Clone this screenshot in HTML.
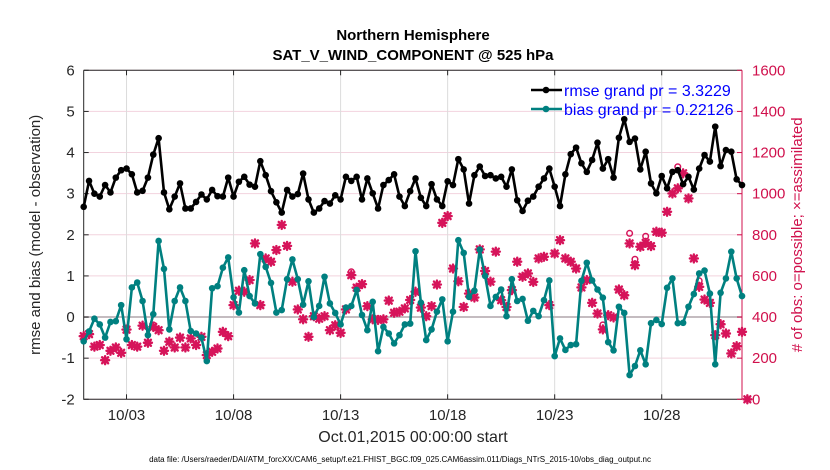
<!DOCTYPE html>
<html><head><meta charset="utf-8"><style>
body{margin:0;background:#fff;}
svg{display:block;font-family:"Liberation Sans",sans-serif;}
</style></head><body>
<svg id="chart" width="830" height="470" viewBox="0 0 830 470">
</svg>
<script>
const rmse=[2.68,3.31,3.0,2.93,3.21,3.03,3.39,3.57,3.61,3.47,3.03,3.07,3.39,3.95,4.35,3.03,2.62,2.93,3.25,2.64,2.64,2.80,2.98,2.86,3.09,2.94,2.93,3.39,2.93,3.29,3.41,3.22,3.17,3.79,3.45,3.06,2.79,2.54,3.09,2.93,2.99,3.49,2.86,2.54,2.64,2.82,2.76,2.96,2.86,3.41,3.31,3.41,2.86,3.37,3.01,2.64,3.21,3.33,3.47,2.93,2.70,3.06,3.37,2.90,2.70,3.23,2.86,2.70,3.30,3.21,3.84,3.59,2.76,3.45,3.66,3.43,3.45,3.37,3.41,3.17,3.59,2.84,2.58,2.83,2.93,3.17,3.37,3.61,3.17,2.70,3.47,3.96,4.12,3.74,3.53,3.82,4.24,3.61,3.84,3.39,4.36,4.81,4.26,4.34,3.59,4.02,3.25,3.01,3.43,3.13,3.53,3.57,3.23,3.41,3.10,3.61,3.94,3.78,4.63,3.67,4.06,4.02,3.35,3.21];
const bias=[-0.59,-0.35,-0.04,-0.18,-0.50,-0.12,-0.10,0.29,-0.54,0.72,0.84,0.39,-0.44,0.07,1.85,1.17,-0.30,0.39,0.72,0.39,-0.34,-0.40,-0.50,-1.07,0.70,0.75,1.20,1.45,0.48,0.11,1.14,0.51,0.33,1.53,1.22,0.83,0.11,0.17,0.92,1.40,0.92,0.30,0.87,0.0,0.27,0.98,0.33,0.10,-0.18,0.23,0.27,0.66,0.05,-0.32,0.37,-0.83,-0.24,-0.40,-0.64,-0.44,-0.18,-0.16,1.60,0.35,-0.56,-0.30,0.13,0.43,-0.59,0.13,1.87,1.56,0.49,0.64,1.64,1.00,0.27,0.49,0.67,0.02,0.92,0.39,0.44,-0.09,0.15,0.02,0.41,0.89,-0.95,-0.52,-0.80,-0.68,-0.66,0.88,1.32,0.89,0.67,0.47,-0.61,-0.81,0.25,0.10,-1.41,-1.19,-0.81,-1.15,-0.15,-0.07,-0.17,0.71,0.94,-0.15,-0.14,0.25,0.56,1.06,1.13,0.57,-1.15,0.59,0.94,1.59,0.94,0.51];
const nAssim=[307,317,256,264,190,236,252,226,339,264,256,358,275,352,336,236,280,252,300,252,296,264,304,215,231,247,328,307,458,528,523,580,758,458,685,669,726,848,746,572,437,389,304,404,392,404,336,360,323,437,604,543,560,453,389,386,389,480,421,426,442,483,523,446,404,453,558,858,891,636,574,449,514,495,729,624,572,718,482,449,531,669,596,612,571,685,693,458,709,774,685,669,636,544,580,469,417,340,409,398,534,506,758,652,742,761,745,815,810,912,1001,1026,1099,977,685,547,485,469,312,365,320,223,258,328,0];
const nPoss=nAssim.slice();
const possIdx=[13,50,97,102,103,105,111,115];
const possVal=[362,620,362,807,681,793,1131,576];
for(let k=0;k<possIdx.length;k++){nPoss[possIdx[k]]=possVal[k];}
const xTickLabels=["10/03","10/08","10/13","10/18","10/23","10/28"];
const xTickDays=[2,7,12,17,22,27];
const yTicks=[-2,-1,0,1,2,3,4,5,6];
const y2Ticks=[0,200,400,600,800,1000,1200,1400,1600];

const L=83.7,R=742,T=70.3,B=399.3;
const xs=d=>L+(d/30.75)*(R-L);
const xi=i=>xs(i*0.25);
const ys=v=>B-(v+2)/8*(B-T);
const y2=n=>B-n/1600*(B-T);
const svg=document.getElementById('chart');
const NS='http://www.w3.org/2000/svg';
function mk(tag,attrs,parent){const e=document.createElementNS(NS,tag);for(const k in attrs)e.setAttribute(k,attrs[k]);(parent||svg).appendChild(e);return e;}

yTicks.forEach(v=>{
  const g=mk('line',{x1:L,x2:R,y1:ys(v),y2:ys(v),stroke:'#f2d3de','stroke-width':1});
  
  
});
xTickDays.forEach(d=>{
  const g=mk('line',{x1:xs(d),x2:xs(d),y1:T,y2:B,stroke:'#dcdcdc','stroke-width':1});
  
  
});
const zl=mk('line',{x1:L,x2:R,y1:ys(0),y2:ys(0),stroke:'#c4bcc0','stroke-width':2});



const ax=mk('path',{d:`M${L},${T}H${R}M${L},${T}V${B}H${R}`,stroke:'#262626',fill:'none','stroke-width':1});


const ax2=mk('line',{x1:R,x2:R,y1:T,y2:B,stroke:'#d0104c','stroke-width':1});



yTicks.forEach(v=>{
  mk('line',{x1:L,x2:L+5,y1:ys(v),y2:ys(v),stroke:'#262626'});
  const t=mk('text',{x:L-9,y:ys(v)+5,'text-anchor':'end','font-size':15,fill:'#262626'});
  t.textContent=v;
  
  
});
y2Ticks.forEach(n=>{
  mk('line',{x1:R-5,x2:R,y1:y2(n),y2:y2(n),stroke:'#d0104c'});
  const t=mk('text',{x:R+10,y:y2(n)+5,'font-size':15,fill:'#d0104c'});
  t.textContent=n;
  
  
});
xTickDays.forEach((d,k)=>{
  mk('line',{x1:xs(d),x2:xs(d),y1:B,y2:B-5,stroke:'#262626'});
  mk('line',{x1:xs(d),x2:xs(d),y1:T,y2:T+5,stroke:'#262626'});
  const t=mk('text',{x:xs(d),y:420,'text-anchor':'middle','font-size':15,fill:'#262626'});
  t.textContent=xTickLabels[k];
  
  
});

function star(cx,cy,name){
  const g=mk('g',{stroke:'#d6145a','stroke-width':2.4,'stroke-linecap':'round'});
  
  
  const r=4;
  mk('line',{x1:cx-r,x2:cx+r,y1:cy,y2:cy},g);
  mk('line',{x1:cx,x2:cx,y1:cy-r,y2:cy+r},g);
  mk('line',{x1:cx-3,x2:cx+3,y1:cy-3,y2:cy+3},g);
  mk('line',{x1:cx-3,x2:cx+3,y1:cy+3,y2:cy-3},g);
}
nPoss.forEach((n,i)=>{
  if(n!==nAssim[i]){
    const c=mk('circle',{cx:xi(i),cy:y2(n),r:2.8,fill:'none',stroke:'#d6145a','stroke-width':1.5});
    
    
  }
});
nAssim.forEach((n,i)=>star(xi(i),y2(n),'obs-assimilated-point'));

function series(vals,color,name){
  const d=vals.map((v,i)=>(i?'L':'M')+xi(i).toFixed(1)+','+ys(v).toFixed(1)).join('');
  const p=mk('path',{d:d,fill:'none',stroke:color,'stroke-width':2.6,'stroke-linejoin':'round'});
  
  
  vals.forEach((v,i)=>{
    const c=mk('circle',{cx:xi(i),cy:ys(v),r:3.3,fill:color});
    
    
  });
}
series(rmse,'#000000','rmse');
series(bias,'#008080','bias');

function legendEntry(y,color,label,name){
  const g=mk('g',{});
  
  
  mk('line',{x1:531,x2:562,y1:y,y2:y,stroke:color,'stroke-width':2.6},g);
  mk('circle',{cx:546,cy:y,r:3.3,fill:color},g);
  const t=mk('text',{x:564,y:y+6,'font-size':16,fill:'#0000ff'},g);
  t.textContent=label;
}
legendEntry(90,'#000000','rmse grand pr = 3.3229','legend-entry-rmse');
legendEntry(109,'#008080','bias grand pr = 0.22126','legend-entry-bias');

function txt(x,y,s,attrs,name){const t=mk('text',Object.assign({x:x,y:y},attrs));t.textContent=s;return t;}
txt(413,40,'Northern Hemisphere',{'text-anchor':'middle','font-size':15,'font-weight':'bold',fill:'#000'},'title-line1');
txt(413,60,'SAT_V_WIND_COMPONENT @ 525 hPa',{'text-anchor':'middle','font-size':15,'font-weight':'bold',fill:'#000'},'title-line2');
txt(413,442,'Oct.01,2015 00:00:00 start',{'text-anchor':'middle','font-size':16,fill:'#262626'},'x-axis-title');
txt(400,462,'data file: /Users/raeder/DAI/ATM_forcXX/CAM6_setup/f.e21.FHIST_BGC.f09_025.CAM6assim.011/Diags_NTrS_2015-10/obs_diag_output.nc',{'text-anchor':'middle','font-size':8,fill:'#000'},'data-file-note');
txt(0,0,'rmse and bias (model - observation)',{'text-anchor':'middle','font-size':15,fill:'#262626',transform:`translate(40,${(T+B)/2}) rotate(-90)`},'y-axis-title');
txt(0,0,'# of obs: o=possible; \u00d7=assimilated',{'text-anchor':'middle','font-size':15,fill:'#d0104c',transform:`translate(802,${(T+B)/2}) rotate(-90)`},'y2-axis-title');
</script>
</body></html>
